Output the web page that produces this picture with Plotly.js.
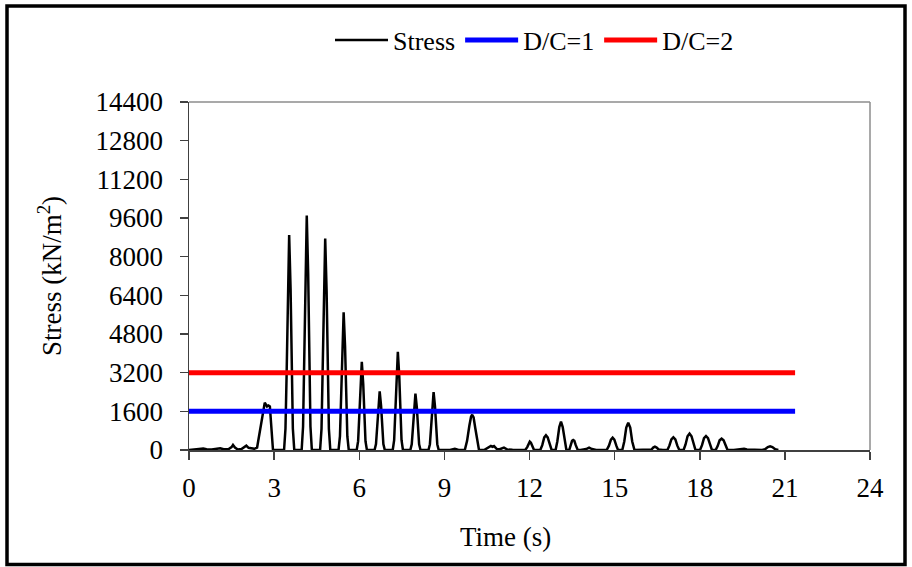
<!DOCTYPE html>
<html>
<head>
<meta charset="utf-8">
<script src="https://cdn.plot.ly/plotly-3.0.1.min.js"></script>
<style>
  html, body { margin: 0; padding: 0; background: #ffffff; }
  #chart { width: 912px; height: 567px; }
</style>
</head>
<body>
<div id="chart"></div>
<script>
// ---- Data ----
const seriesNames = ["Stress", "D/C=1", "D/C=2"];
const xTitle = "Time (s)";
const yTitle = "Stress (kN/m<sup>2</sup>)";

// Stress time history (s, kN/m^2)
const stressTime = [
  0, 0.20, 0.35, 0.50, 0.62, 0.80, 0.95, 1.10, 1.22, 1.40, 1.50, 1.55, 1.62, 1.72, 1.85, 1.95, 2.02, 2.10, 2.20, 2.30,
  2.40, 2.49, 2.59, 2.67, 2.75, 2.80, 2.85, 2.91, 2.96,
  3.35, 3.40, 3.44, 3.48, 3.53, 3.58, 3.62, 3.66, 3.71,
  3.97, 4.02, 4.06, 4.10, 4.15, 4.20, 4.24, 4.28, 4.33,
  4.62, 4.67, 4.71, 4.75, 4.80, 4.85, 4.89, 4.93, 4.98,
  5.27, 5.32, 5.36, 5.40, 5.45, 5.50, 5.54, 5.58, 5.63,
  5.91, 5.96, 6.00, 6.04, 6.09, 6.14, 6.18, 6.22, 6.27,
  6.54, 6.59, 6.63, 6.67, 6.72, 6.77, 6.81, 6.85, 6.90,
  7.18, 7.23, 7.27, 7.31, 7.36, 7.41, 7.45, 7.49, 7.54,
  7.80, 7.85, 7.89, 7.93, 7.98, 8.03, 8.07, 8.11, 8.16,
  8.44, 8.49, 8.53, 8.57, 8.62, 8.67, 8.71, 8.75, 8.80,
  9.20, 9.37, 9.50,
  9.72, 9.80, 9.88, 9.94, 9.98, 10.03, 10.09, 10.16, 10.22,
  10.40, 10.55, 10.64, 10.70, 10.75, 10.85, 10.95, 11.10, 11.22, 11.40, 11.70,
  11.85, 11.92, 11.97, 12.01, 12.05, 12.10, 12.16,
  12.38, 12.45, 12.52, 12.58, 12.64, 12.71, 12.78,
  12.92, 12.98, 13.05, 13.11, 13.17, 13.24, 13.30,
  13.40, 13.46, 13.50, 13.54, 13.58, 13.63, 13.70,
  13.80, 14.00, 14.10, 14.20, 14.35, 14.60,
  14.72, 14.80, 14.87, 14.93, 14.99, 15.06, 15.12,
  15.27, 15.34, 15.41, 15.48, 15.55, 15.62, 15.70,
  16.00, 16.30, 16.36, 16.42, 16.48, 16.55, 16.70,
  16.86, 16.93, 17.00, 17.07, 17.14, 17.21, 17.28,
  17.43, 17.50, 17.57, 17.64, 17.71, 17.78, 17.85,
  18.01, 18.08, 18.15, 18.22, 18.29, 18.36, 18.43,
  18.56, 18.63, 18.70, 18.77, 18.84, 18.91, 18.98,
  19.20, 19.45, 19.56, 19.66, 19.90, 20.20, 20.30, 20.40, 20.48, 20.56, 20.66, 20.77
];
const stressValue = [
  0, 10, 40, 60, 30, 20, 50, 70, 30, 40, 120, 207, 100, 20, 40, 120, 180, 90, 60, 50,
  100, 700, 1500, 1960, 1800, 1840, 1800, 800, 0,
  0, 890, 3115, 6675, 8900, 6675, 3115, 890, 0,
  0, 970, 3400, 7280, 9700, 7280, 3400, 970, 0,
  0, 875, 3060, 6560, 8750, 6560, 3060, 875, 0,
  0, 570, 2000, 4280, 5700, 4280, 2000, 570, 0,
  0, 365, 1280, 2740, 3650, 2740, 1280, 365, 0,
  0, 245, 850, 1820, 2430, 1820, 850, 245, 0,
  0, 405, 1420, 3045, 4060, 3045, 1420, 405, 0,
  0, 235, 815, 1750, 2330, 1750, 815, 235, 0,
  0, 240, 840, 1800, 2400, 1800, 840, 240, 0,
  0, 50, 0,
  0, 380, 1000, 1380, 1460, 1350, 900, 300, 0,
  0, 120, 165, 130, 160, 40, 30, 100, 20, 10, 10,
  0, 120, 300, 345, 300, 120, 0,
  0, 200, 520, 607, 520, 200, 0,
  0, 350, 950, 1172, 950, 350, 0,
  0, 200, 380, 414, 380, 200, 0,
  0, 40, 100, 40, 0, 0,
  0, 180, 430, 510, 430, 180, 0,
  0, 350, 930, 1131, 930, 350, 0,
  0, 20, 100, 138, 100, 20, 0,
  0, 180, 440, 524, 440, 180, 0,
  0, 230, 570, 676, 570, 230, 0,
  0, 200, 490, 579, 490, 200, 0,
  0, 160, 400, 469, 400, 160, 0,
  0, 20, 55, 20, 0, 0, 30, 120, 152, 120, 30, 0
];

// Capacity lines
const dcTime = [0, 21.36];
const dc1Value = [1600, 1600];
const dc2Value = [3200, 3200];

// Axis ticks
const xTicks = [0, 3, 6, 9, 12, 15, 18, 21, 24];
const yTicks = [0, 1600, 3200, 4800, 6400, 8000, 9600, 11200, 12800, 14400];

// ---- Layout constants ----
const W = 912, H = 567;
const mL = 189, mR = 42, mT = 102, mB = 117;
const pw = W - mL - mR, ph = H - mT - mB;
const px = v => (v - mL) / pw;          // pixel -> paper x
const py = v => (H - mB - v) / ph;      // pixel -> paper y

const FONT = "Liberation Serif, Times New Roman, serif";
const FS = 27;

const traces = [
  { x: stressTime, y: stressValue, name: seriesNames[0], type: 'scatter', mode: 'lines',
    line: { color: '#000000', width: 2.5 } },
  { x: dcTime, y: dc1Value, name: seriesNames[1], type: 'scatter', mode: 'lines',
    line: { color: '#0000ff', width: 5 } },
  { x: dcTime, y: dc2Value, name: seriesNames[2], type: 'scatter', mode: 'lines',
    line: { color: '#ff0000', width: 5 } }
];

const layout = {
  width: W, height: H,
  margin: { l: mL, r: mR, t: mT, b: mB, pad: 0 },
  paper_bgcolor: '#ffffff', plot_bgcolor: '#ffffff',
  font: { family: FONT, size: FS, color: '#000000' },
  showlegend: true,
  legend: {
    orientation: 'h', x: px(330), xanchor: 'left', y: py(40), yanchor: 'middle',
    font: { family: FONT, size: 26, color: '#000000' },
    itemwidth: 53, bgcolor: 'rgba(0,0,0,0)', borderwidth: 0,
    tracegroupgap: 0
  },
  xaxis: {
    range: [0, 24], tickmode: 'array', tickvals: xTicks, ticktext: xTicks.map(String),
    ticks: 'outside', ticklen: 8, tickwidth: 1.5, tickcolor: '#404040',
    showline: true, linecolor: '#404040', linewidth: 1.5,
    showgrid: false, zeroline: false, ticklabelstandoff: 5,
    tickfont: { family: FONT, size: FS, color: '#000000' }
  },
  yaxis: {
    range: [0, 14400], tickmode: 'array', tickvals: yTicks, ticktext: yTicks.map(String),
    ticks: 'outside', ticklen: 8, tickwidth: 1.5, tickcolor: '#404040',
    showline: true, linecolor: '#404040', linewidth: 1.5,
    showgrid: false, zeroline: false, ticklabelstandoff: 11,
    tickfont: { family: FONT, size: FS, color: '#000000' },
    title: { text: yTitle, font: { family: FONT, size: FS, color: '#000000' }, standoff: 26 }
  },
  annotations: [
    { text: xTitle, xref: 'paper', yref: 'paper', x: px(505), y: py(537),
      xanchor: 'center', yanchor: 'middle', showarrow: false,
      font: { family: FONT, size: FS, color: '#000000' } }
  ],
  shapes: [
    { type: 'line', xref: 'paper', yref: 'paper', x0: 0, x1: 1, y0: 1, y1: 1,
      line: { color: '#8c8c8c', width: 1.5 }, layer: 'below' },
    { type: 'line', xref: 'paper', yref: 'paper', x0: 1, x1: 1, y0: 0, y1: 1,
      line: { color: '#8c8c8c', width: 1.5 }, layer: 'below' },
    { type: 'rect', xref: 'paper', yref: 'paper',
      x0: px(7), x1: px(905), y0: py(564.5), y1: py(6),
      line: { color: '#000000', width: 3.5 }, fillcolor: 'rgba(0,0,0,0)' }
  ]
};

Plotly.newPlot('chart', traces, layout, { displayModeBar: false, staticPlot: true });
</script>
</body>
</html>
